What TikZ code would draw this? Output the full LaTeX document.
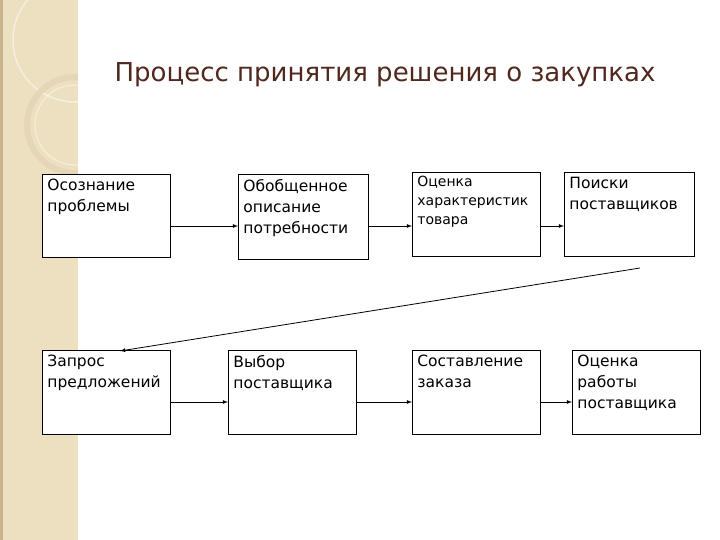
\documentclass[tikz,border=0pt]{standalone}
\usepackage{fontspec}
\setmainfont{DejaVu Sans}
\begin{document}
\begin{tikzpicture}[x=1pt,y=-1pt,
 box/.style={draw=black,line width=0.8pt,anchor=north west,inner sep=0pt,fill=white},
 arr/.style={-latex,line width=0.8pt}]
\useasboundingbox (0,0) rectangle (720,540);
\fill[white] (0,0) rectangle (720,540);
\fill[color={rgb,255:red,237;green,224;blue,192}] (0,0) rectangle (78,540);
\fill[color={rgb,255:red,200;green,180;blue,140}] (0,0) rectangle (3,540);
\begin{scope}
\clip (3,0) rectangle (78,540);
\draw[white,opacity=0.5,line width=1.5pt] (75,40) circle (62);
\draw[color={rgb,255:red,228;green,214;blue,182},line width=6pt] (75,125) circle (48);
\draw[white,opacity=0.5,line width=1pt] (75,125) circle (40);
\end{scope}
\newcommand{\bx}[4]{\parbox[t][#2][t]{#1}{\vspace{#3}\hspace*{5pt}\parbox[t]{\dimexpr#1-6pt}{\fontsize{15.5}{21}\selectfont\raggedright #4}}}
\node[color={rgb,255:red,80;green,40;blue,30},font=\fontsize{26}{30}\selectfont] (title) at (385,75) {Процесс принятия решения о закупках};
\node[box] (b1) at (42,174) {\bx{128pt}{83pt}{5pt}{Осознание\\проблемы}};
\node[box] (b2) at (238,174) {\bx{130pt}{85pt}{5pt}{Обобщенное\\описание\\потребности}};
\node[box] (b3) at (412,172) {\parbox[t][84pt][t]{128pt}{\vspace{4pt}\hspace*{5pt}\parbox[t]{122pt}{\fontsize{14}{19}\selectfont\raggedright Оценка\\характеристик\\товара}}};
\node[box] (b4) at (564,172) {\bx{130pt}{84pt}{5pt}{Поиски\\поставщиков}};
\node[box] (b5) at (42,350) {\bx{128pt}{84pt}{5pt}{Запрос\\предложений}};
\node[box] (b6) at (228,350) {\bx{128pt}{84pt}{5pt}{Выбор\\поставщика}};
\node[box] (b7) at (412,350) {\bx{128pt}{84pt}{5pt}{Составление\\заказа}};
\node[box] (b8) at (572,350) {\bx{128pt}{84pt}{5pt}{Оценка\\работы\\поставщика}};
\draw[arr] (b1.east|-0,226) -- (b2.west|-0,226);
\draw[arr] (b2.east|-0,226) -- (b3.west|-0,226);
\draw[arr] (b3.east|-0,226) -- (b4.west|-0,226);
\coordinate (s) at (640,268);
\coordinate (e) at (120,351);
\draw[arr] (s) -- (e);
\draw[arr] (b5.east|-0,402) -- (b6.west|-0,402);
\draw[arr] (b6.east|-0,402) -- (b7.west|-0,402);
\draw[arr] (b7.east|-0,402) -- (b8.west|-0,402);
\end{tikzpicture}
\end{document}
